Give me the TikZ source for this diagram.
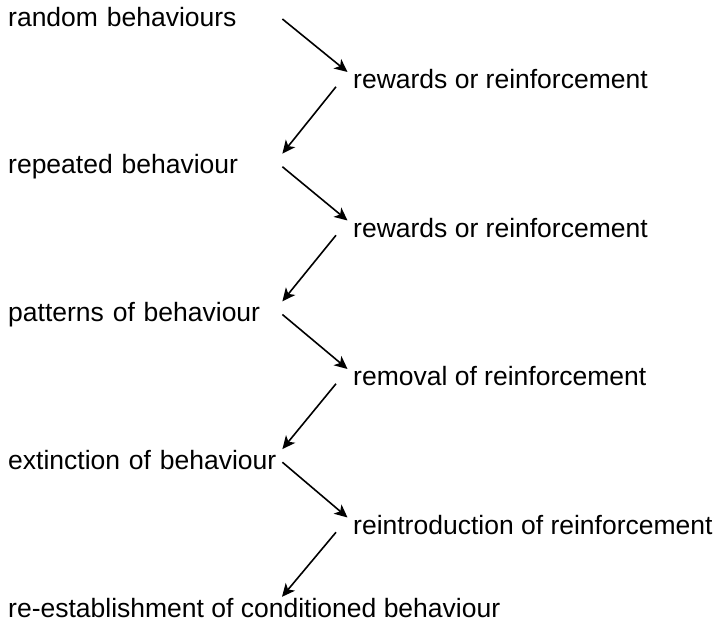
\documentclass[tikz,border=0pt]{standalone}
\usepackage{fontspec}
\setmainfont{Liberation Sans}
\usetikzlibrary{arrows.meta,positioning}

\tikzset{
  stage/.style={inner sep=0pt,text height=20pt,text depth=6pt,anchor=base west,
    font=\fontsize{26.5pt}{30pt}\selectfont},
  cause/.style={stage,text width=274pt,align=left},
  leads/.style={-{Stealth[length=13pt,width=12pt,inset=3.5pt]},line width=1.6pt},
}

\begin{document}
\begin{tikzpicture}[node distance=147.75pt,on grid]
  \useasboundingbox (0,0) rectangle (716pt,-625pt);

  % behaviours
  \node (b1) at (8pt,-26pt) [cause] {random behaviours};
  \node (b2) [below=of b1.base west,cause] {repeated behaviour};
  \node (b3) [below=of b2.base west,cause] {patterns of behaviour};
  \node (b4) [below=of b3.base west,cause] {extinction of behaviour};
  \node (b5) [below=of b4.base west,stage] {re-establishment of conditioned behaviour};

  % reinforcement
  \node (r1) [below right=62.5pt and 345pt of b1.base west,stage] {rewards or reinforcement};
  \node (r2) [below=148.5pt of r1.base west,stage] {rewards or reinforcement};
  \node (r3) [below=148.5pt of r2.base west,stage] {removal of reinforcement};
  \node (r4) [below=148.5pt of r3.base west,stage] {reintroduction of reinforcement};

  \draw[leads] (b1.east) -- ([shift={(-5.5pt,16.5pt)}]r1.base west);
  \draw[leads] ([shift={(-17pt,1.75pt)}]r1.base west) -- (b2.north east);
  \draw[leads] (b2.east) -- ([shift={(-5.5pt,16.5pt)}]r2.base west);
  \draw[leads] ([shift={(-17pt,1.75pt)}]r2.base west) -- (b3.north east);
  \draw[leads] (b3.east) -- ([shift={(-5.5pt,16.5pt)}]r3.base west);
  \draw[leads] ([shift={(-17pt,1.75pt)}]r3.base west) -- (b4.north east);
  \draw[leads] (b4.east) -- ([shift={(-5.5pt,16.5pt)}]r4.base west);
  \draw[leads] ([shift={(-17pt,1.75pt)}]r4.base west) -- ([xshift=274pt]b5.north west);
\end{tikzpicture}
\end{document}
